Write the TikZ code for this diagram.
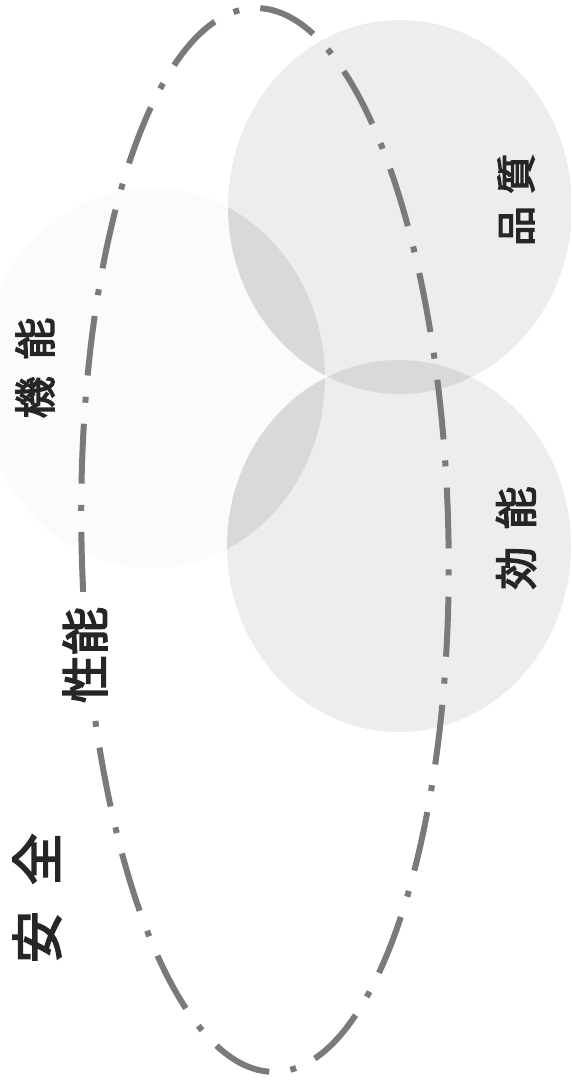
\documentclass[tikz,border=0pt]{standalone}
\usepackage{fontspec}
\newfontfamily\cjk[BoldFont={Noto Sans CJK JP}, BoldFeatures={FakeBold=3.2}]{Noto Sans CJK JP}
\begin{document}
\begin{tikzpicture}[x=1pt,y=-1pt,
  lbl/.style={font=\cjk\bfseries, text=black!85, rotate=90, inner sep=0pt},
  setfill/.style={fill=black!7},
  lensfill/.style={fill=black!15},
  ring/.style={draw=black!52, line width=6pt, dash pattern=on 60pt off 21pt on 6pt off 21.3pt, dash phase=48pt}]
\useasboundingbox (0,0) rectangle (571,1082);
\clip (0,0) rectangle (571,1082);
\coordinate (qc) at (400,207);
\coordinate (ec) at (399,546);
\coordinate (fc) at (152,378);
\coordinate (rc) at (265,540);
% sets
\path[setfill] (qc) ellipse [x radius=172, y radius=187];
\path[setfill] (ec) ellipse [x radius=172, y radius=186];
\path[fill=black!1.5] (fc) ellipse [x radius=173, y radius=190];
\begin{scope}
  \clip (qc) ellipse [x radius=172, y radius=187];
  \path[lensfill] (ec) ellipse [x radius=172, y radius=186];
  \path[lensfill] (fc) ellipse [x radius=173, y radius=190];
\end{scope}
\begin{scope}
  \clip (ec) ellipse [x radius=172, y radius=186];
  \path[lensfill] (fc) ellipse [x radius=173, y radius=190];
\end{scope}
% safety ring
\draw[ring, rotate around={1.1:(rc)}] (rc) ellipse [x radius=183.5, y radius=532];
% labels
\node[lbl, font=\cjk\bfseries\fontsize{40}{40}\selectfont] (quality) at (516,200) {品\hspace{0.3em}質};
\node[lbl, font=\cjk\bfseries\fontsize{43}{43}\selectfont] (efficacy) at (516,538) {効\hspace{0.4em}能};
\node[lbl, font=\cjk\bfseries\fontsize{42}{42}\selectfont] (function) at (35,368) {機\hspace{0.4em}能};
\node[lbl, font=\cjk\bfseries\fontsize{48}{48}\selectfont, fill=white, inner xsep=14pt, inner ysep=6pt] (performance) at (85,655) {性能};
\node[lbl, font=\cjk\bfseries\fontsize{52}{52}\selectfont] (safety) at (37,898) {安\hspace{0.5em}全};
\end{tikzpicture}
\end{document}
